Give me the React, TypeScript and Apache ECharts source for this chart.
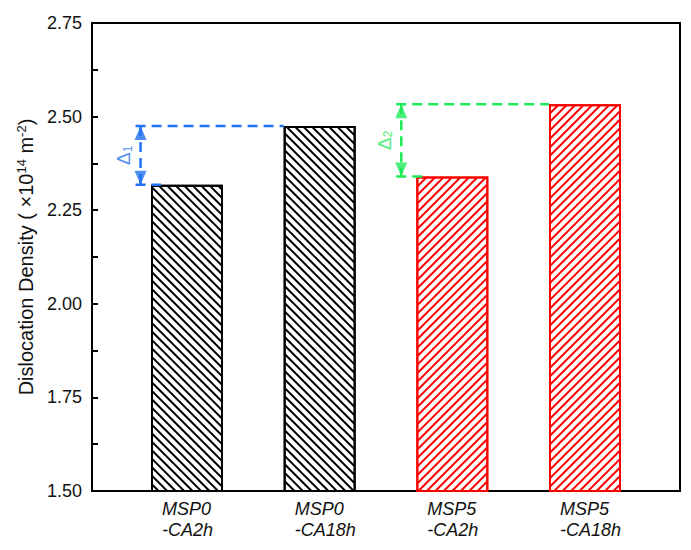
import React, { useEffect, useRef } from 'react';
import * as echarts from 'echarts';

// ---- data ----
const categories = ['MSP0\n-CA2h', 'MSP0\n-CA18h', 'MSP5\n-CA2h', 'MSP5\n-CA18h'];
const densities = [2.318, 2.475, 2.34, 2.533];
const barColors = ['#000000', '#000000', '#ff0000', '#ff0000'];
const hatchRotations = [Math.PI / 4, Math.PI / 4, -Math.PI / 4, -Math.PI / 4];
const yMin = 1.5;
const yMax = 2.75;
const yStep = 0.25;
// delta annotations: [lower bar index, higher bar index]
const deltaPairs = [
  [0, 1],
  [2, 3],
];
const deltaLabels = ['1', '2'];
const deltaColors = ['#1e73f0', '#1eeb5a'];

// ---- layout constants ----
const FONT = "'Liberation Sans', Arial, sans-serif";
const xMin = -0.716;
const xMax = 3.716;
const pxPerUnit = 588 / (xMax - xMin);
const barWidthPx = 72;
const halfBar = barWidthPx / 2 / pxPerUnit;
const arrowOffsets = [-0.35, -0.385];
const capHalf = 5 / pxPerUnit;
const bottomTail = 10 / pxPerUnit;
const labelShift = 17 / pxPerUnit;

function buildOption() {
  const series: any[] = [];

  series.push({
    type: 'bar',
    barWidth: barWidthPx,
    z: 2,
    silent: true,
    data: densities.map((v, i) => ({
      value: [i, v],
      itemStyle: {
        color: '#ffffff',
        borderColor: barColors[i],
        borderWidth: 2,
        decal: {
          symbol: 'rect',
          symbolSize: 1,
          color: barColors[i],
          dashArrayX: [1, 0],
          dashArrayY: [2, 4],
          rotation: hatchRotations[i],
        },
      },
    })),
  });

  deltaPairs.forEach(([lo, hi], k) => {
    const color = deltaColors[k];
    const ax = lo + arrowOffsets[k];
    const lineStyle = { color, width: 2.5, type: [10, 6] };
    const common = {
      type: 'line',
      symbol: 'none',
      silent: true,
      z: 5,
      lineStyle,
    };
    series.push({
      ...common,
      data: [
        [ax - capHalf, densities[hi]],
        [hi - halfBar, densities[hi]],
      ],
    });
    series.push({
      ...common,
      data: [
        [ax - capHalf, densities[lo]],
        [lo - halfBar + bottomTail, densities[lo]],
      ],
    });
    series.push({
      ...common,
      data: [
        [ax, densities[hi]],
        [ax, densities[lo]],
      ],
    });
    series.push({
      type: 'scatter',
      silent: true,
      z: 6,
      symbol: 'triangle',
      symbolSize: [12, 14],
      itemStyle: { color },
      data: [
        { value: [ax, densities[hi]], symbolRotate: 0, symbolOffset: [0, 7] },
        { value: [ax, densities[lo]], symbolRotate: 180, symbolOffset: [0, -7] },
      ],
    });
    series.push({
      type: 'scatter',
      silent: true,
      z: 6,
      symbol: 'circle',
      symbolSize: 1,
      itemStyle: { color: 'transparent' },
      data: [[ax - labelShift, (densities[lo] + densities[hi]) / 2]],
      label: {
        show: true,
        position: 'inside',
        rotate: 90,
        fontSize: 19,
        color,
        fontFamily: FONT,
        formatter: `{d|Δ}{s|${deltaLabels[k]}}`,
        rich: {
          d: { fontSize: 19, color, fontFamily: FONT },
          s: { fontSize: 12, color, fontFamily: FONT, padding: [8, 0, 0, 0] },
        },
      },
    });
  });

  return {
    animation: false,
    backgroundColor: '#ffffff',
    grid: {
      left: 92,
      right: 11,
      top: 23,
      bottom: 59,
      show: true,
      borderColor: '#000',
      borderWidth: 2,
      backgroundColor: 'transparent',
    },
    xAxis: {
      type: 'value',
      min: xMin,
      max: xMax,
      axisLine: { show: true, onZero: false, lineStyle: { color: '#000', width: 2 } },
      axisTick: { show: false },
      splitLine: { show: false },
      axisLabel: {
        customValues: categories.map((_, i) => i),
        margin: 7,
        formatter: (v: number) => {
          const c = categories[Math.round(v)];
          if (!c) return '';
          return c
            .split('\n')
            .map((s) => `{a|${s}}`)
            .join('\n');
        },
        rich: {
          a: {
            fontSize: 18,
            fontStyle: 'italic',
            fontFamily: FONT,
            color: '#111',
            width: 50,
            align: 'left',
            lineHeight: 21,
          },
        },
      },
    },
    yAxis: {
      type: 'value',
      min: yMin,
      max: yMax,
      interval: yStep,
      axisLine: { show: true, onZero: false, lineStyle: { color: '#000', width: 2 } },
      axisTick: { show: true, inside: true, length: 6, lineStyle: { color: '#000', width: 2 } },
      minorTick: { show: true, splitNumber: 2, length: 6, lineStyle: { color: '#000', width: 2 } },
      splitLine: { show: false },
      axisLabel: {
        fontSize: 18,
        fontFamily: FONT,
        color: '#111',
        margin: 10,
        formatter: (v: number) => v.toFixed(2),
      },
      name: 'Dislocation Density ( ×10{sup|14} m{sup|-2})',
      nameLocation: 'middle',
      nameGap: 53,
      nameTextStyle: {
        fontSize: 20,
        fontFamily: FONT,
        color: '#111',
        rich: {
          sup: { fontSize: 13, fontFamily: FONT, color: '#111', padding: [0, 0, 10, 0] },
        },
      },
    },
    series,
  };
}

export default function App() {
  const ref = useRef<HTMLDivElement>(null);
  useEffect(() => {
    if (!ref.current) return;
    const chart = echarts.init(ref.current, null, { renderer: 'svg' });
    chart.setOption(buildOption() as any);
    return () => chart.dispose();
  }, []);
  return (
    <div
      ref={ref}
      style={{ position: 'fixed', left: 0, top: 0, width: 691, height: 550, background: '#fff' }}
    />
  );
}
